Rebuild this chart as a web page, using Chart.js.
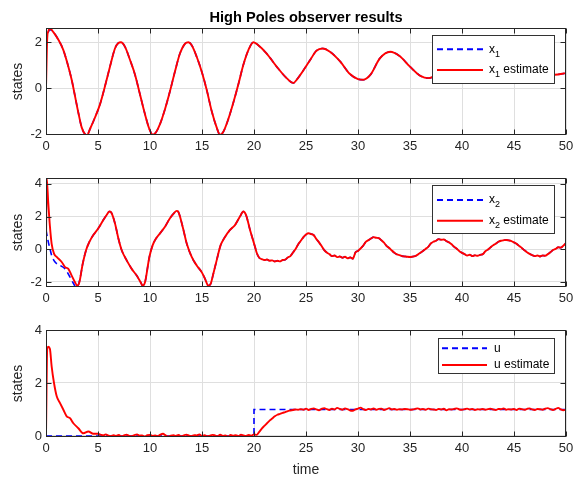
<!DOCTYPE html>
<html>
<head>
<meta charset="utf-8">
<script src="https://cdn.jsdelivr.net/npm/chart.js@4.4.1/dist/chart.umd.min.js"></script>
<style>
body { margin: 0; background: #fff; }
#wrap { position: relative; width: 580px; height: 481px; }
canvas { position: absolute; left: 0; }
#title { position: absolute; left: 46px; width: 520px; top: 9px; text-align: center;
  font: bold 14.6px "Liberation Sans", Arial, Helvetica, sans-serif; line-height: 16px; color: #000; }
</style>
</head>
<body>
<div id="wrap">
  <canvas id="c1" width="580" height="160" style="top:0"></canvas>
  <canvas id="c2" width="580" height="160" style="top:150px"></canvas>
  <canvas id="c3" width="580" height="171" style="top:310px"></canvas>
  <div id="title">High Poles observer results</div>
</div>
<script>
// tick labels
var xTicks = [0, 5, 10, 15, 20, 25, 30, 35, 40, 45, 50];
var y1Ticks = [-2, 0, 2];
var y2Ticks = [-2, 0, 2, 4];
var y3Ticks = [0, 2, 4];

// x1 : true state and observer estimate
var x1T = [0, 0.12, 0.2, 0.38, 0.71, 1.19, 1.67, 2.15, 2.47, 2.79, 3.11, 3.43, 3.75, 3.95,
  4.23, 4.71, 5.19, 5.67, 6.15, 6.63, 6.96, 7.2, 7.6, 8.08, 8.56, 9.04, 9.52, 9.94, 10.26, 10.58,
  10.96, 11.44, 11.92, 12.4, 12.88, 13.37, 13.69, 14.01, 14.49, 14.97, 15.45, 15.93, 16.41, 16.73,
  17.05, 17.53, 18.01, 18.49, 18.97, 19.46, 19.94, 20.42, 21.22, 22.18, 23.14, 23.78, 24.1, 25.4,
  26.0, 26.6, 27.3, 28.3, 29.2, 30.0, 30.5, 31.2, 32.1, 33.1, 34.0, 35.0, 36.0, 36.8, 38.0, 39.8,
  41.5, 43.2, 44.8, 46.3, 47.6, 48.9, 50];
var x1Est = [0, 2.2, 2.45, 2.6, 2.44, 2.11, 1.66, 0.94, 0.37, -0.34, -1.06, -1.70, -1.99, -2.03,
  -1.77, -1.27, -0.70, 0.09, 0.94, 1.73, 1.97, 2.0, 1.80, 1.23, 0.59, -0.27, -1.13, -1.77, -2.02, -1.91,
  -1.56, -0.91, -0.13, 0.73, 1.51, 1.94, 2.0, 1.87, 1.37, 0.73, -0.06, -0.99, -1.70, -2.02,
  -1.89, -1.34, -0.63, 0.16, 1.01, 1.66, 2.0, 1.87, 1.51, 0.94, 0.44, 0.23, 0.37, 1.23,
  1.63, 1.73, 1.59, 1.16, 0.63, 0.40, 0.37, 0.59, 1.30, 1.59, 1.40, 0.94, 0.54, 0.44, 0.75, 1.45,
  1.15, 0.5, 0.9, 1.35, 1.0, 0.59, 0.66];
var x1TrueStart = [2.0, 2.3, 2.42, 2.55];

// x2 : estimate up to t = 20.1, then sampled every 0.25 s
var x2T = [0, 0.06, 0.22, 0.38, 0.54, 0.77, 1.03, 1.51, 1.83, 2.15, 2.47, 2.79, 3.01, 3.21, 3.53,
  3.85, 4.17, 4.55, 5.03, 5.51, 5.83, 6.09, 6.25, 6.63, 6.96, 7.28, 7.76, 8.24, 8.72, 9.10, 9.29,
  9.52, 9.94, 10.26, 10.58, 10.96, 11.44, 11.92, 12.31, 12.56, 12.72, 13.14, 13.53, 14.01, 14.49,
  14.97, 15.29, 15.61, 15.83, 16.09, 16.41, 16.79, 17.12, 17.69, 18.17, 18.65, 18.97, 19.23, 19.62, 20.10];
var x2Est = [0, 4.37, 2.82, 1.38, 0.35, -0.27, -0.47, -0.78, -1.09, -1.20, -1.61, -2.02, -2.23, -2.02, -0.89,
  -0.06, 0.45, 0.87, 1.28, 1.79, 2.10, 2.31, 2.27, 1.59, 0.66, -0.06, -0.68, -1.20, -1.61, -2.02, -2.23,
  -2.02, -0.47, 0.25, 0.66, 0.97, 1.38, 1.90, 2.21, 2.35, 2.29, 1.38, 0.35, -0.47, -0.99,
  -1.40, -1.81, -2.23, -2.12, -1.50, -0.68, 0.25, 0.66, 1.18, 1.48, 2.00, 2.31, 2.10, 1.18, 0.14];
var x2LateStart = 20.25, lateStep = 0.25;
var x2Late = [-0.20, -0.52, -0.60, -0.66, -0.63, -0.70, -0.68, -0.75, -0.70, -0.74,
  -0.66, -0.64, -0.50, -0.42, -0.20, 0.02, 0.30, 0.52, 0.74, 0.90,
  0.98, 0.93, 0.86, 0.62, 0.42, 0.20, -0.05, -0.20, -0.30, -0.42,
  -0.38, -0.48, -0.44, -0.52, -0.46, -0.55, -0.50, -0.58, -0.20, -0.10,
  0.05, 0.22, 0.45, 0.56, 0.66, 0.74, 0.70, 0.68, 0.55, 0.40,
  0.20, 0.08, -0.08, -0.22, -0.32, -0.36, -0.42, -0.44, -0.46, -0.47,
  -0.45, -0.42, -0.33, -0.22, -0.10, 0.02, 0.15, 0.35, 0.46, 0.52,
  0.62, 0.58, 0.60, 0.50, 0.42, 0.30, 0.15, 0.03, -0.12, -0.22,
  -0.30, -0.38, -0.34, -0.42, -0.37, -0.40, -0.34, -0.30, -0.12, -0.02,
  0.12, 0.25, 0.34, 0.46, 0.52, 0.55, 0.57, 0.54, 0.50, 0.42,
  0.33, 0.20, 0.08, -0.06, -0.18, -0.28, -0.36, -0.42, -0.38, -0.44,
  -0.38, -0.40, -0.30, -0.18, -0.05, 0.02, 0.12, 0.10, 0.22, 0.39];
var x2TrueStartT = [0, 0.22, 0.38, 0.54, 0.87, 1.35, 1.83, 2.31, 2.63, 2.88, 3.08, 3.27];
var x2TrueStart = [1.18, 0.45, 0.04, -0.37, -0.78, -0.99, -1.2, -1.71, -2.08, -2.33, -2.23, -1.81];

// u : true input and estimate
var uTrueT = [0, 20, 20, 50];
var uTrue = [0, 0, 1, 1];
var uEarlyT = [0, 0.12, 0.22, 0.38, 0.54, 0.77, 1.03, 1.35, 1.67, 1.99, 2.31, 2.63, 3.11, 3.59, 4.07, 4.55, 5.0];
var uEarly = [0, 3.3, 3.37, 3.28, 2.64, 2.0, 1.5, 1.24, 0.99, 0.74, 0.67, 0.48, 0.29, 0.10, 0.17, 0.08, 0.08];
var uRestStart = 5.25;
var uRest = [0.05, 0.02, 0.06, 0.01, -0.01, 0.03, 0.00, 0.04, -0.02, 0.02,
  0.05, 0.00, -0.01, 0.03, 0.06, 0.01, 0.02, -0.02, 0.03, 0.04,
  0.00, 0.02, -0.01, 0.05, 0.08, 0.02, -0.03, 0.01, 0.03, 0.00,
  0.04, -0.02, 0.02, 0.05, 0.01, -0.01, 0.03, 0.02, 0.06, 0.00,
  0.03, -0.02, 0.01, 0.04, 0.02, -0.01, 0.05, 0.00, 0.02, -0.03,
  0.04, 0.01, 0.03, -0.01, 0.05, 0.02, 0.00, 0.04, 0.01, 0.06,
  0.04, 0.15, 0.28, 0.38, 0.48, 0.58, 0.66, 0.74, 0.80, 0.83, 0.87, 0.90, 0.94, 0.96, 0.98, 1.00, 0.99,
  1.01, 0.99, 1.03, 0.98, 1.02, 1.04, 1.00, 0.97, 1.02, 1.05,
  1.01, 0.98, 1.03, 1.00, 1.06, 1.02, 0.99, 1.04, 1.01, 0.96,
  0.95, 1.00, 1.03, 1.07, 1.01, 0.98, 1.02, 1.00, 1.04, 0.99,
  1.02, 1.03, 0.98, 1.01, 1.05, 1.00, 1.02, 0.99, 1.01, 1.00,
  1.02, 1.01, 0.99, 1.00, 1.02, 1.04, 1.00, 1.02, 0.99, 1.03,
  1.01, 1.00, 0.98, 1.02, 1.00, 1.03, 0.97, 1.01, 1.00, 1.02,
  1.04, 1.00, 0.99, 1.01, 1.03, 1.00, 1.02, 0.98, 1.01, 1.00,
  1.02, 0.99, 1.01, 1.03, 1.00, 0.98, 1.02, 1.01, 1.04, 0.99,
  1.01, 1.00, 1.02, 0.98, 1.03, 1.01, 0.99, 1.02, 1.04, 1.00,
  0.98, 1.02, 1.01, 0.99, 1.03, 1.05, 1.01, 0.98, 1.02, 1.06,
  1.00, 0.97, 0.99];

var FONT = '"Liberation Sans", Arial, Helvetica, sans-serif';
var AXIS = '#262626';
var GRID = '#dfdfdf';
var RED = '#ff0000';
var BLUE = '#0000ff';

Chart.defaults.font.family = FONT;

function pts(ts, vs) {
  return ts.map(function (t, i) { return { x: t, y: vs[i] }; });
}
function gridPts(t0, dt, vs) {
  return vs.map(function (v, i) { return { x: t0 + i * dt, y: v }; });
}

var x1EstPts = pts(x1T, x1Est);
var x1TruePts = pts(x1T.slice(0, 4), x1TrueStart).concat(x1EstPts.slice(4));

var x2EstPts = pts(x2T, x2Est).concat(gridPts(x2LateStart, lateStep, x2Late));
var x2TruePts = pts(x2TrueStartT, x2TrueStart).concat(x2EstPts.slice(14));

var uEstPts = pts(uEarlyT, uEarly).concat(gridPts(uRestStart, lateStep, uRest));
var uTruePts = pts(uTrueT, uTrue);

// axes box with inward tick marks, like the original figure
var framePlugin = {
  id: 'frame',
  afterDatasetsDraw: function (chart) {
    var ctx = chart.ctx, a = chart.chartArea, sx = chart.scales.x, sy = chart.scales.y;
    var L = Math.round(a.left) + 0.5, R = Math.round(a.right) - 0.5;
    var T = Math.round(a.top) + 0.5, B = Math.round(a.bottom) - 0.5;
    ctx.save();
    ctx.strokeStyle = AXIS;
    ctx.lineWidth = 1;
    ctx.strokeRect(L, T, R - L, B - T);
    ctx.beginPath();
    sx.ticks.forEach(function (t) {
      var p = Math.round(sx.getPixelForValue(t.value)) + 0.5;
      ctx.moveTo(p, B); ctx.lineTo(p, B - 5);
      ctx.moveTo(p, T); ctx.lineTo(p, T + 5);
    });
    sy.ticks.forEach(function (t) {
      var p = Math.round(sy.getPixelForValue(t.value)) + 0.5;
      ctx.moveTo(L, p); ctx.lineTo(L + 5, p);
      ctx.moveTo(R, p); ctx.lineTo(R - 5, p);
    });
    ctx.stroke();
    ctx.restore();
  }
};

function boxLegend(cfg) {
  return {
    id: 'boxLegend',
    afterDraw: function (chart) {
      var ctx = chart.ctx, b = cfg.box;
      ctx.save();
      ctx.fillStyle = '#fff';
      ctx.fillRect(b[0], b[1], b[2] - b[0], b[3] - b[1]);
      ctx.strokeStyle = '#333';
      ctx.lineWidth = 1;
      ctx.strokeRect(b[0] + 0.5, b[1] + 0.5, b[2] - b[0], b[3] - b[1]);
      cfg.items.forEach(function (it, i) {
        var y = cfg.rows[i];
        ctx.strokeStyle = it.color;
        ctx.lineWidth = it.width;
        ctx.setLineDash(it.dash || []);
        ctx.beginPath();
        ctx.moveTo(cfg.line[0], y);
        ctx.lineTo(cfg.line[1], y);
        ctx.stroke();
        ctx.setLineDash([]);
        ctx.fillStyle = '#000';
        ctx.textBaseline = 'middle';
        ctx.textAlign = 'left';
        ctx.font = '12px ' + FONT;
        var x = cfg.textX;
        ctx.fillText(it.text, x, y);
        x += ctx.measureText(it.text).width;
        if (it.sub) {
          ctx.font = '9px ' + FONT;
          ctx.fillText(it.sub, x, y + 5);
          x += ctx.measureText(it.sub).width;
          ctx.font = '12px ' + FONT;
        }
        if (it.rest) ctx.fillText(it.rest, x, y);
      });
      ctx.restore();
    }
  };
}

function makeChart(id, estPts, truePts, o) {
  return new Chart(document.getElementById(id), {
    type: 'line',
    data: {
      datasets: [{
        label: 'estimate',
        data: estPts,
        borderColor: RED,
        borderWidth: 1.9,
        pointRadius: 0,
        cubicInterpolationMode: 'monotone'
      }, {
        label: 'true',
        data: truePts,
        borderColor: BLUE,
        borderWidth: 1.6,
        borderDash: [6, 4],
        pointRadius: 0,
        tension: 0,
        cubicInterpolationMode: o.trueMode
      }]
    },
    options: {
      responsive: false,
      animation: false,
      devicePixelRatio: 1,
      layout: { padding: { top: o.padTop, right: 14, left: 0, bottom: 0 } },
      plugins: {
        legend: { display: false },
        tooltip: { enabled: false },
        title: { display: false }
      },
      scales: {
        x: {
          type: 'linear',
          min: 0,
          max: 50,
          afterBuildTicks: function (s) { s.ticks = xTicks.map(function (v) { return { value: v }; }); },
          afterFit: function (s) { s.height = o.xHeight; },
          grid: { color: GRID, drawTicks: false },
          border: { display: false },
          ticks: { padding: 4, color: AXIS, font: { size: 13 }, autoSkip: false, maxRotation: 0 },
          title: o.xTitle ? { display: true, text: o.xTitle, color: AXIS, font: { size: 14 }, padding: { top: 0, bottom: 2.6 } } : { display: false }
        },
        y: {
          min: o.yMin,
          max: o.yMax,
          afterBuildTicks: function (s) { s.ticks = o.yTicks.map(function (v) { return { value: v }; }); },
          afterFit: function (s) { s.width = 46; },
          grid: { color: GRID, drawTicks: false },
          border: { display: false },
          ticks: { padding: 4, color: AXIS, font: { size: 13 } },
          title: { display: true, text: 'states', color: AXIS, font: { size: 14 }, padding: { top: 10, bottom: 0 } }
        }
      }
    },
    plugins: [framePlugin, boxLegend(o.legend)]
  });
}

makeChart('c1', x1EstPts, x1TruePts, {
  padTop: 28, xHeight: 25, yMin: -2.03, yMax: 2.62, yTicks: y1Ticks, trueMode: 'monotone',
  legend: {
    box: [432, 35, 554, 83], rows: [49.3, 70], line: [437, 483], textX: 489,
    items: [
      { text: 'x', sub: '1', color: BLUE, width: 2, dash: [6, 4] },
      { text: 'x', sub: '1', rest: ' estimate', color: RED, width: 2 }
    ]
  }
});

makeChart('c2', x2EstPts, x2TruePts, {
  padTop: 28, xHeight: 23, yMin: -2.31, yMax: 4.36, yTicks: y2Ticks, trueMode: 'monotone',
  legend: {
    box: [432, 35, 554, 83], rows: [50, 70.7], line: [437, 483], textX: 489,
    items: [
      { text: 'x', sub: '2', color: BLUE, width: 2, dash: [6, 4] },
      { text: 'x', sub: '2', rest: ' estimate', color: RED, width: 2 }
    ]
  }
});

makeChart('c3', uEstPts, uTruePts, {
  padTop: 20, xHeight: 44, yMin: -0.04, yMax: 4, yTicks: y3Ticks, trueMode: 'default', xTitle: 'time',
  legend: {
    box: [438, 28, 554, 63], rows: [38.3, 55], line: [442, 487], textX: 494,
    items: [
      { text: 'u', color: BLUE, width: 2, dash: [6, 4] },
      { text: 'u estimate', color: RED, width: 2 }
    ]
  }
});
</script>
</body>
</html>
